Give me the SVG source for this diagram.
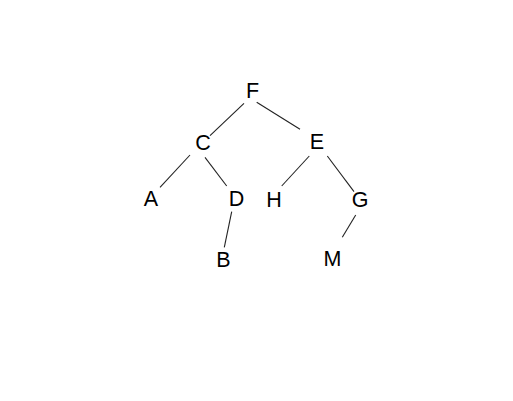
<svg xmlns="http://www.w3.org/2000/svg" width="513" height="401" viewBox="0 0 513 401">
<style>
.n text{font-family:"Liberation Sans",Arial,sans-serif;font-size:21.5px;fill:#000;text-anchor:middle}
.e line{stroke:#222;stroke-width:1.1}
</style>
<rect width="513" height="401" fill="#fff"/>
<g id="connectors" class="e">
<line x1="244" y1="103.3" x2="210" y2="135.7"/>
<line x1="256.7" y1="102.3" x2="300" y2="129.3"/>
<line x1="190" y1="155" x2="160" y2="187.3"/>
<line x1="205" y1="157.3" x2="226.7" y2="186"/>
<line x1="309.3" y1="156" x2="281.7" y2="186"/>
<line x1="327.3" y1="156" x2="354" y2="191.7"/>
<line x1="231.7" y1="211.7" x2="224.3" y2="247.3"/>
<line x1="355.7" y1="215" x2="342.3" y2="237.3"/>
</g>
<g class="n">
<g id="F"><text x="252.5" y="97.7">F</text></g>
<g id="C"><text x="203" y="149.7">C</text></g>
<g id="E"><text x="317" y="149.4">E</text></g>
<g id="A"><text x="151" y="206">A</text></g>
<g id="D"><text x="236.5" y="206">D</text></g>
<g id="H"><text x="274" y="206.5">H</text></g>
<g id="G"><text x="360" y="207">G</text></g>
<g id="B"><text x="223.5" y="266.5">B</text></g>
<g id="M"><text x="332.5" y="265.5">M</text></g>
</g>
</svg>
